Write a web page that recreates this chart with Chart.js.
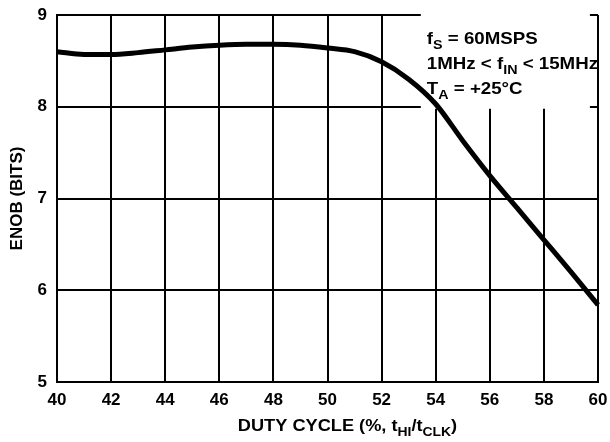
<!DOCTYPE html>
<html>
<head>
<meta charset="utf-8">
<script src="https://cdn.jsdelivr.net/npm/chart.js@4/dist/chart.umd.min.js"></script>
<style>
html,body{margin:0;padding:0;background:#fff;}
#wrap{width:610px;height:442px;position:relative;}
</style>
</head>
<body>
<div id="wrap"><canvas id="c" width="610" height="442"></canvas></div>
<script>
// Data
const dutyCycle = [40, 41, 42, 43, 44, 45, 46, 47, 48, 49, 50, 51, 52, 53, 54, 55, 56, 57, 58, 59, 60];
const enob      = [8.60, 8.57, 8.57, 8.59, 8.62, 8.65, 8.67, 8.68, 8.68, 8.67, 8.64, 8.60, 8.49, 8.30, 8.03, 7.63, 7.25, 6.90, 6.55, 6.20, 5.84];
const xTicks = [40, 42, 44, 46, 48, 50, 52, 54, 56, 58, 60];
const yTicks = [5, 6, 7, 8, 9];
const noteLines = [
  [["f", false], ["S", true], [" = 60MSPS", false]],
  [["1MHz < f", false], ["IN", true], [" < 15MHz", false]],
  [["T", false], ["A", true], [" = +25°C", false]]
];
const xTitle = [["DUTY CYCLE (%, t", false], ["HI", true], ["/t", false], ["CLK", true], [")", false]];
const yTitle = "ENOB (BITS)";

const FONT = "'Liberation Sans', Arial, Helvetica, sans-serif";

function drawRich(ctx, parts, x, y, size, subSize, subDy) {
  let cx = x;
  for (const [t, sub] of parts) {
    ctx.font = "bold " + (sub ? subSize : size) + "px " + FONT;
    ctx.fillText(t, cx, sub ? y + subDy : y);
    cx += ctx.measureText(t).width;
  }
  return cx - x;
}
function richWidth(ctx, parts, size, subSize) {
  let w = 0;
  for (const [t, sub] of parts) {
    ctx.font = "bold " + (sub ? subSize : size) + "px " + FONT;
    w += ctx.measureText(t).width;
  }
  return w;
}

const overlay = {
  id: 'overlay',
  beforeDatasetsDraw(chart) {
    const ctx = chart.ctx;
    const xs = chart.scales.x, ys = chart.scales.y;
    // white note box covering grid
    const bx0 = xs.getPixelForValue(53.45), bx1 = xs.getPixelForValue(59.7);
    const by0 = ys.getPixelForValue(9) - 4, by1 = ys.getPixelForValue(8) + 2;
    ctx.save();
    ctx.fillStyle = '#fff';
    ctx.fillRect(bx0, by0, bx1 - bx0, by1 - by0);
    ctx.fillStyle = '#000';
    ctx.textBaseline = 'alphabetic';
    const tx = bx0 + 6;
    const baselines = [ys.getPixelForValue(8.68), ys.getPixelForValue(8.41), ys.getPixelForValue(8.14)];
    noteLines.forEach((ln, i) => {
      ctx.save();
      ctx.translate(tx, baselines[i]);
      ctx.scale(1.1, 1);
      drawRich(ctx, ln, 0, 0, 17, 13, 5);
      ctx.restore();
    });
    ctx.restore();
  },
  afterDraw(chart) {
    const ctx = chart.ctx;
    const xs = chart.scales.x, ys = chart.scales.y;
    ctx.save();
    ctx.fillStyle = '#000';
    ctx.textBaseline = 'alphabetic';
    // x title
    const w = richWidth(ctx, xTitle, 17, 13) * 1.07;
    const cx = (xs.left + xs.right) / 2 + 20;
    ctx.save();
    ctx.translate(cx - w / 2, 431);
    ctx.scale(1.07, 1);
    drawRich(ctx, xTitle, 0, 0, 17, 13, 5);
    ctx.restore();
    // y title
    ctx.save();
    ctx.translate(22, (ys.top + ys.bottom) / 2);
    ctx.rotate(-Math.PI / 2);
    ctx.font = "bold 17px " + FONT;
    ctx.textAlign = 'center';
    ctx.fillText(yTitle, 0, 0);
    ctx.restore();
    ctx.restore();
  }
};

new Chart(document.getElementById('c'), {
  type: 'line',
  data: {
    datasets: [{
      data: dutyCycle.map((x, i) => ({ x: x, y: enob[i] })),
      borderColor: '#000',
      borderWidth: 5,
      pointRadius: 0,
      fill: false,
      cubicInterpolationMode: 'monotone',
      clip: false
    }]
  },
  options: {
    responsive: false,
    animation: false,
    devicePixelRatio: 1,
    layout: { padding: { top: 15, right: 12, left: 0, bottom: 0 } },
    plugins: { legend: { display: false }, tooltip: { enabled: false } },
    scales: {
      x: {
        type: 'linear',
        min: 40, max: 60,
        afterBuildTicks: (s) => { s.ticks = xTicks.map(v => ({ value: v })); },
        afterFit: (s) => { s.height = 60; s.paddingLeft = 0; s.paddingRight = 0; },
        grid: { color: '#000', lineWidth: 2, drawTicks: false },
        border: { color: '#000', width: 2 },
        ticks: {
          color: '#000', padding: 8, maxRotation: 0, autoSkip: false,
          font: { family: FONT, size: 17, weight: 'bold' }
        }
      },
      y: {
        type: 'linear',
        min: 5, max: 9,
        afterBuildTicks: (s) => { s.ticks = yTicks.map(v => ({ value: v })); },
        afterFit: (s) => { s.width = 57; s.paddingTop = 0; s.paddingBottom = 0; },
        grid: { color: '#000', lineWidth: 2, drawTicks: false },
        border: { color: '#000', width: 2 },
        ticks: {
          color: '#000', padding: 10,
          font: { family: FONT, size: 17, weight: 'bold' }
        }
      }
    }
  },
  plugins: [overlay]
});
</script>
</body>
</html>
